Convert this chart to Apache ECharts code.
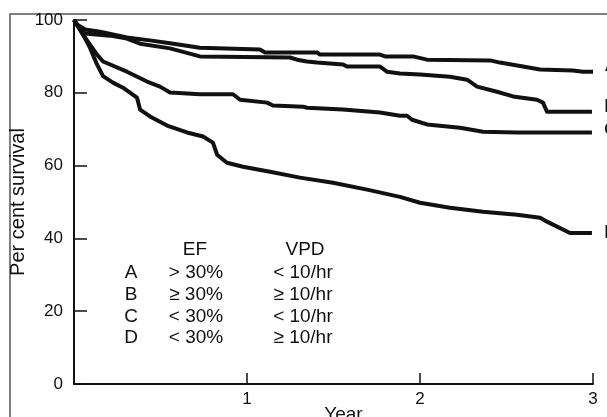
<!DOCTYPE html>
<html>
<head>
<meta charset="utf-8">
<script src="https://cdn.jsdelivr.net/npm/echarts@6/dist/echarts.min.js"></script>
<style>
	html, body { margin: 0; padding: 0; background: #fff; }
	#chart { width: 607px; height: 417px; }
</style>
</head>
<body>
<div id="chart"></div>
<script>
var font = 'Liberation Sans, Arial, Helvetica, sans-serif';
var ink = '#111';

// survival curves, [year, per cent]
var curveA = [[0, 100], [0.017, 98.8], [0.064, 97.4], [0.15, 96.8], [0.306, 95.2], [0.439, 94.4], [0.555, 93.6], [0.728, 92.4],
	[1.075, 91.9], [1.104, 91.1], [1.405, 91.1], [1.422, 90.5], [1.769, 90.5], [1.798, 90.0], [1.96, 90.0], [2.04, 89.1],
	[2.405, 88.9], [2.462, 88.3], [2.595, 87.2], [2.694, 86.4], [2.884, 86.1], [2.942, 85.8], [3, 85.8]];
var curveB = [[0, 100], [0.029, 97.9], [0.064, 96.3], [0.208, 95.7], [0.306, 94.9], [0.382, 93.5], [0.555, 92.2], [0.728, 90.0],
	[1.249, 89.7], [1.289, 89.1], [1.347, 88.6], [1.405, 88.3], [1.555, 87.8], [1.578, 87.2], [1.769, 87.2], [1.809, 85.8],
	[1.884, 85.3], [2.0, 85.0], [2.173, 84.4], [2.272, 83.6], [2.33, 81.7], [2.445, 80.3], [2.538, 79.0], [2.676, 78.1],
	[2.711, 77.3], [2.734, 74.8], [2.994, 74.8]];
var curveC = [[0, 100], [0.052, 96.0], [0.133, 90.5], [0.168, 88.6], [0.306, 85.8], [0.422, 83.1], [0.497, 81.7], [0.555, 80.1],
	[0.728, 79.6], [0.919, 79.6], [0.96, 78.1], [1.116, 77.3], [1.15, 76.5], [1.324, 76.2], [1.347, 75.9], [1.555, 75.4],
	[1.769, 74.6], [1.884, 73.7], [1.925, 73.7], [1.954, 72.6], [2.04, 71.3], [2.231, 70.4], [2.364, 69.3], [2.561, 69.1], [2.994, 69.1]];
var curveD = [[0, 100], [0.052, 96.0], [0.092, 92.4], [0.133, 87.8], [0.168, 84.6], [0.225, 82.8], [0.283, 81.4], [0.364, 78.7],
	[0.382, 75.4], [0.439, 73.5], [0.538, 71.0], [0.653, 69.1], [0.746, 68.0], [0.803, 66.3], [0.827, 63.0], [0.884, 60.8],
	[0.977, 59.7], [1.133, 58.3], [1.306, 56.7], [1.497, 55.3], [1.694, 53.4], [1.884, 51.4], [2.0, 49.8], [2.173, 48.4],
	[2.364, 47.3], [2.561, 46.5], [2.694, 45.7], [2.734, 44.6], [2.867, 41.5], [2.994, 41.5]];

// key table
var groups = ['A', 'B', 'C', 'D'];
var efLimits = ['> 30%', '≥ 30%', '< 30%', '< 30%'];
var vpdLimits = ['< 10/hr', '≥ 10/hr', '< 10/hr', '≥ 10/hr'];

var curves = [curveA, curveB, curveC, curveD];
var endOffsets = [[4, -6], [4, -5], [4, -3], [4, 0]];

var series = [];
for(var i = 0; i < curves.length; i++) {
	series.push({
		name: groups[i],
		type: 'line',
		data: curves[i],
		showSymbol: false,
		lineStyle: { color: ink, width: 4, join: 'round' },
		endLabel: {
			show: true,
			formatter: '{a}',
			offset: endOffsets[i],
			color: ink,
			fontSize: 19,
			fontFamily: font
		}
	});
}

var graphic = [{
	type: 'rect',
	shape: { x: 10, y: 14, width: 700, height: 500 },
	style: { fill: 'none', stroke: '#555', lineWidth: 1.5 },
	z: -1
}, {
	type: 'text', x: 195, y: 250,
	style: { text: 'EF', fontSize: 19, fontFamily: font, fill: ink, align: 'center', verticalAlign: 'middle' }
}, {
	type: 'text', x: 305, y: 250,
	style: { text: 'VPD', fontSize: 19, fontFamily: font, fill: ink, align: 'center', verticalAlign: 'middle' }
}];
for(var j = 0; j < groups.length; j++) {
	var rowY = 273 + j * 21.7;
	graphic.push({
		type: 'text', x: 131, y: rowY,
		style: { text: groups[j], fontSize: 19, fontFamily: font, fill: ink, align: 'center', verticalAlign: 'middle' }
	}, {
		type: 'text', x: 196, y: rowY,
		style: { text: efLimits[j], fontSize: 19, fontFamily: font, fill: ink, align: 'center', verticalAlign: 'middle' }
	}, {
		type: 'text', x: 303, y: rowY,
		style: { text: vpdLimits[j], fontSize: 19, fontFamily: font, fill: ink, align: 'center', verticalAlign: 'middle' }
	});
}

var option = {
	animation: false,
	backgroundColor: '#fff',
	grid: { left: 74, right: 14, top: 20, bottom: 33, containLabel: false, outerBoundsMode: 'none' },
	xAxis: {
		type: 'value',
		min: 0,
		max: 3,
		interval: 1,
		name: 'Year',
		nameLocation: 'middle',
		nameGap: 21,
		nameMoveOverlap: false,
		nameTextStyle: { color: ink, fontSize: 19, fontFamily: font, padding: [0, 0, 0, 20] },
		axisLine: { lineStyle: { color: ink, width: 2 } },
		axisTick: { inside: true, length: 11, lineStyle: { color: ink, width: 1.5 } },
		axisLabel: {
			color: ink, fontSize: 17, fontFamily: font, margin: 7,
			formatter: function(v) { return v === 0 ? '' : v; }
		},
		splitLine: { show: false }
	},
	yAxis: {
		type: 'value',
		min: 0,
		max: 100,
		interval: 20,
		name: 'Per cent survival',
		nameLocation: 'middle',
		nameGap: 46,
		nameMoveOverlap: false,
		nameTextStyle: { color: ink, fontSize: 20, fontFamily: font },
		axisLine: { lineStyle: { color: ink, width: 2 } },
		axisTick: { inside: true, length: 13, lineStyle: { color: ink, width: 1.5 } },
		axisLabel: { color: ink, fontSize: 17, fontFamily: font, margin: 11 },
		splitLine: { show: false }
	},
	graphic: graphic,
	series: series
};

var chart = echarts.init(document.getElementById('chart'));
chart.setOption(option);
</script>
</body>
</html>
